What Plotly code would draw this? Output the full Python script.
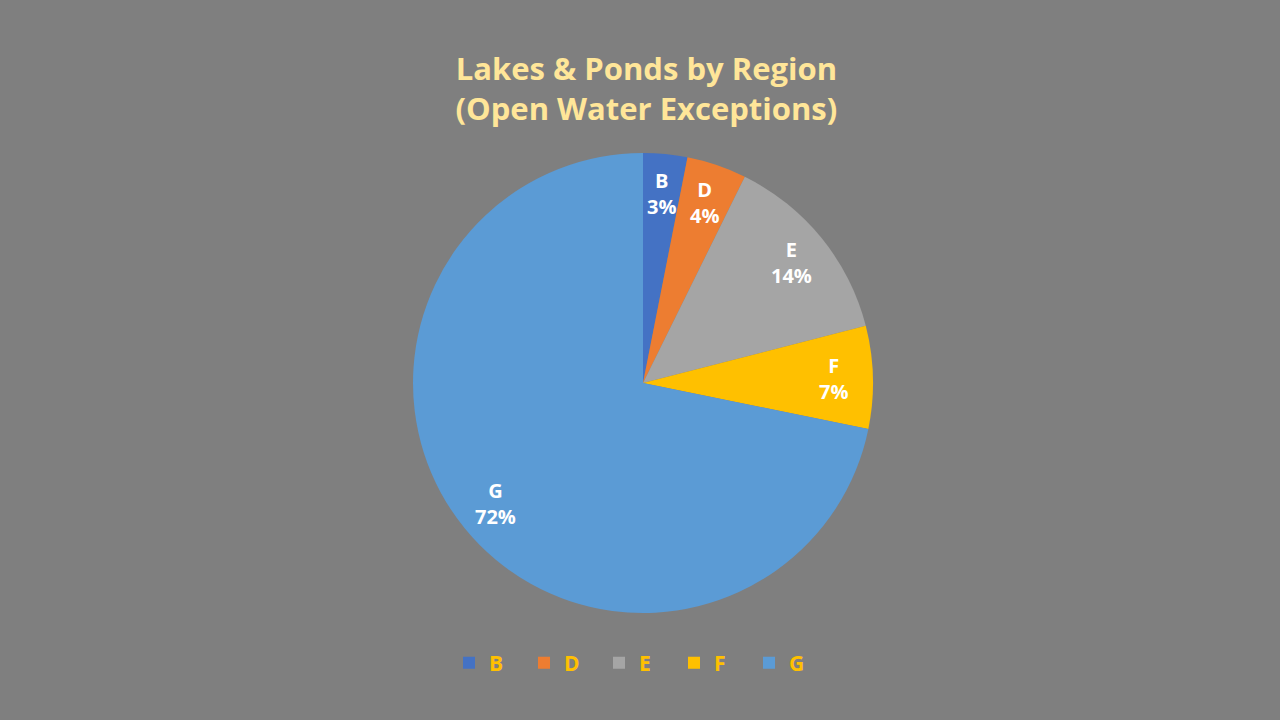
import math
import plotly.graph_objects as go

regions = ["B", "D", "E", "F", "G"]
values = [3.1, 4.2, 13.7, 7.2, 71.8]
colors = ["#4472C4", "#ED7D31", "#A5A5A5", "#FFC000", "#5B9BD5"]

W, H = 1280, 720
cx, cy, R = 643, 383, 230  # pie centre / radius in pixels
dom_x = [(cx - R) / W, (cx + R) / W]
dom_y = [1 - (cy + R) / H, 1 - (cy - R) / H]

fig = go.Figure(go.Pie(
    labels=regions,
    values=values,
    sort=False,
    direction="clockwise",
    rotation=0,
    marker=dict(colors=colors, line=dict(width=0)),
    textinfo="none",
    domain=dict(x=dom_x, y=dom_y),
    hoverinfo="label+percent",
))

# data labels at ~0.83 R along the slice mid-angle (derived from the values)
total = sum(values)
cum = 0.0
annotations = []
for lab, v in zip(regions, values):
    mid = (cum + v / 2) / total * 2 * math.pi
    cum += v
    r = 0.83 * R
    px = cx + r * math.sin(mid)
    py = cy - r * math.cos(mid)
    annotations.append(dict(
        x=px / W, y=1 - py / H, xref="paper", yref="paper",
        text=f"{lab}<br>{round(v / total * 100)}%",
        showarrow=False, xanchor="center", yanchor="middle",
        font=dict(family="Open Sans", size=20, color="white", weight="bold"),
    ))

fig.update_layout(
    width=W, height=H,
    paper_bgcolor="#7F7F7F",
    plot_bgcolor="#7F7F7F",
    margin=dict(l=0, r=0, t=0, b=0),
    title=dict(
        text="Lakes & Ponds by Region<br>(Open Water Exceptions)",
        x=0.505, xanchor="center",
        y=1 - 80 / H, yanchor="middle",
        font=dict(family="Open Sans", size=31, color="#FFE699", weight="bold"),
    ),
    legend=dict(
        orientation="h",
        x=449 / W, xanchor="left",
        y=1 - 663 / H, yanchor="middle",
        font=dict(family="Open Sans", size=21, color="#FFC000", weight="bold"),
        entrywidth=30, entrywidthmode="pixels",
        bgcolor="rgba(0,0,0,0)",
    ),
    annotations=annotations,
    showlegend=True,
)

fig.write_html("out.html", config={"displayModeBar": False})
with open("out.html", encoding="utf-8") as f:
    html = f.read()
html = html.replace("<body>", '<body style="margin:0;background:#7F7F7F">', 1)
with open("out.html", "w", encoding="utf-8") as f:
    f.write(html)
